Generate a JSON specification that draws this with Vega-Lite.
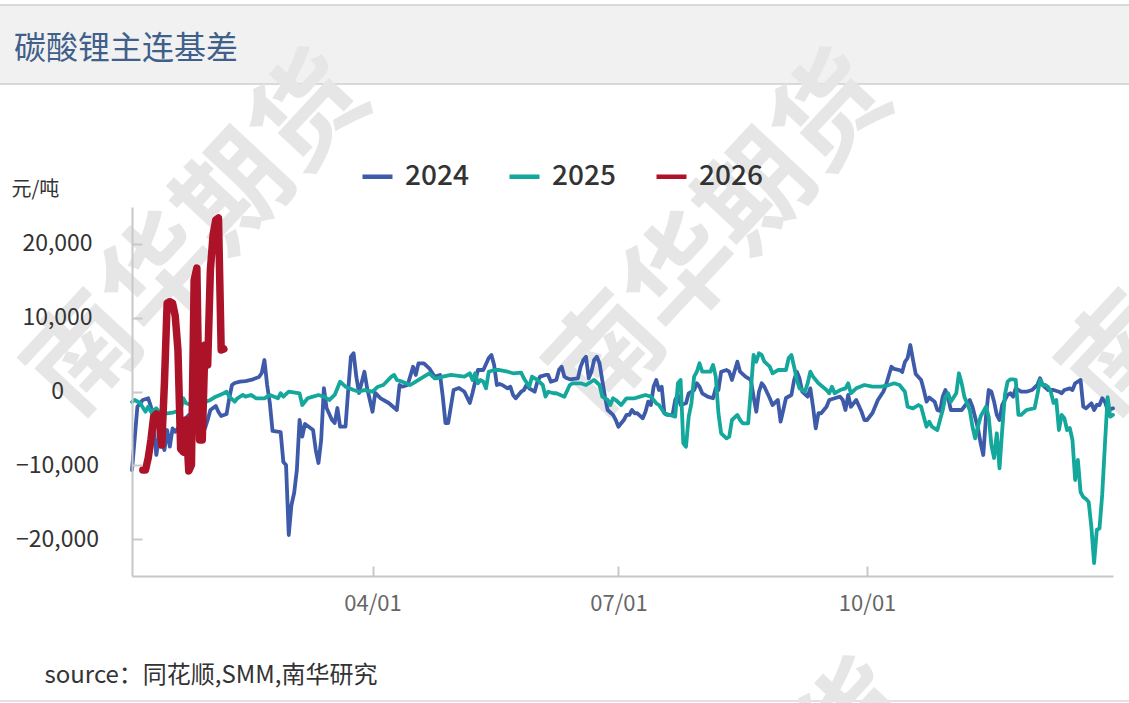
{
"$schema": "https://vega.github.io/schema/vega-lite/v6.json",
"width": 981, "height": 369,
"autosize": {"type": "none"},
"padding": {"left": 132, "top": 207, "right": 16, "bottom": 127},
"background": "white",
"config": {"view": {"stroke": null}, "font": "Noto Sans CJK SC", "axis": {"grid": false}},
"data": {"values": [
{"s":"2024","d":"2024-01-03","v":-10640},{"s":"2024","d":"2024-01-05","v":-2060},{"s":"2024","d":"2024-01-07","v":-1150},{"s":"2024","d":"2024-01-09","v":-920},{"s":"2024","d":"2024-01-10","v":-2060},{"s":"2024","d":"2024-01-11","v":-4400},{"s":"2024","d":"2024-01-12","v":-8600},{"s":"2024","d":"2024-01-13","v":-6300},{"s":"2024","d":"2024-01-14","v":-6840},{"s":"2024","d":"2024-01-15","v":-7930},{"s":"2024","d":"2024-01-16","v":-5220},{"s":"2024","d":"2024-01-17","v":-7480},{"s":"2024","d":"2024-01-18","v":-5010},{"s":"2024","d":"2024-01-19","v":-5450},{"s":"2024","d":"2024-01-20","v":-4950},{"s":"2024","d":"2024-01-21","v":-4400},{"s":"2024","d":"2024-01-23","v":-3590},{"s":"2024","d":"2024-01-24","v":-3180},{"s":"2024","d":"2024-01-26","v":-3860},{"s":"2024","d":"2024-01-27","v":-4070},{"s":"2024","d":"2024-01-29","v":-4770},{"s":"2024","d":"2024-01-30","v":-4990},{"s":"2024","d":"2024-01-31","v":-3860},
{"s":"2024","d":"2024-02-01","v":-2510},{"s":"2024","d":"2024-02-03","v":-1960},{"s":"2024","d":"2024-02-04","v":-2780},{"s":"2024","d":"2024-02-05","v":-3320},{"s":"2024","d":"2024-02-07","v":-3050},{"s":"2024","d":"2024-02-08","v":-880},{"s":"2024","d":"2024-02-09","v":880},{"s":"2024","d":"2024-02-10","v":1150},{"s":"2024","d":"2024-02-12","v":1330},{"s":"2024","d":"2024-02-14","v":1420},{"s":"2024","d":"2024-02-16","v":1560},{"s":"2024","d":"2024-02-18","v":1830},{"s":"2024","d":"2024-02-19","v":1960},{"s":"2024","d":"2024-02-20","v":2500},{"s":"2024","d":"2024-02-21","v":4270},{"s":"2024","d":"2024-02-22","v":880},{"s":"2024","d":"2024-02-23","v":-1560},{"s":"2024","d":"2024-02-24","v":-5350},{"s":"2024","d":"2024-02-27","v":-5490},{"s":"2024","d":"2024-02-28","v":-9550},{"s":"2024","d":"2024-02-29","v":-9960},
{"s":"2024","d":"2024-03-01","v":-19450},{"s":"2024","d":"2024-03-02","v":-15380},{"s":"2024","d":"2024-03-03","v":-13750},{"s":"2024","d":"2024-03-04","v":-10640},{"s":"2024","d":"2024-03-05","v":-3860},{"s":"2024","d":"2024-03-06","v":-6120},{"s":"2024","d":"2024-03-07","v":-4400},{"s":"2024","d":"2024-03-10","v":-5220},{"s":"2024","d":"2024-03-11","v":-7930},{"s":"2024","d":"2024-03-12","v":-9690},{"s":"2024","d":"2024-03-13","v":-6570},{"s":"2024","d":"2024-03-14","v":470},{"s":"2024","d":"2024-03-15","v":-2240},{"s":"2024","d":"2024-03-17","v":-3860},{"s":"2024","d":"2024-03-18","v":-4270},{"s":"2024","d":"2024-03-19","v":-2240},{"s":"2024","d":"2024-03-20","v":-4770},{"s":"2024","d":"2024-03-22","v":-4770},{"s":"2024","d":"2024-03-23","v":200},{"s":"2024","d":"2024-03-24","v":4720},{"s":"2024","d":"2024-03-25","v":5180},{"s":"2024","d":"2024-03-26","v":2010},{"s":"2024","d":"2024-03-27","v":-200},{"s":"2024","d":"2024-03-29","v":2680},{"s":"2024","d":"2024-03-30","v":470},
{"s":"2024","d":"2024-04-01","v":-2740},{"s":"2024","d":"2024-04-02","v":-200},{"s":"2024","d":"2024-04-04","v":-920},{"s":"2024","d":"2024-04-07","v":-1560},{"s":"2024","d":"2024-04-10","v":-2510},{"s":"2024","d":"2024-04-11","v":880},{"s":"2024","d":"2024-04-12","v":650},{"s":"2024","d":"2024-04-14","v":880},{"s":"2024","d":"2024-04-16","v":3360},{"s":"2024","d":"2024-04-17","v":2240},{"s":"2024","d":"2024-04-18","v":3820},{"s":"2024","d":"2024-04-20","v":3820},{"s":"2024","d":"2024-04-22","v":3140},{"s":"2024","d":"2024-04-24","v":2010},{"s":"2024","d":"2024-04-26","v":2240},{"s":"2024","d":"2024-04-27","v":-700},{"s":"2024","d":"2024-04-28","v":-4270},{"s":"2024","d":"2024-04-29","v":-4270},
{"s":"2024","d":"2024-05-01","v":200},{"s":"2024","d":"2024-05-03","v":470},{"s":"2024","d":"2024-05-05","v":-30},{"s":"2024","d":"2024-05-07","v":-1560},{"s":"2024","d":"2024-05-08","v":-200},{"s":"2024","d":"2024-05-10","v":2910},{"s":"2024","d":"2024-05-12","v":2910},{"s":"2024","d":"2024-05-14","v":4540},{"s":"2024","d":"2024-05-15","v":4950},{"s":"2024","d":"2024-05-16","v":3590},{"s":"2024","d":"2024-05-17","v":880},{"s":"2024","d":"2024-05-18","v":1020},{"s":"2024","d":"2024-05-19","v":880},{"s":"2024","d":"2024-05-21","v":430},{"s":"2024","d":"2024-05-22","v":650},{"s":"2024","d":"2024-05-23","v":-470},{"s":"2024","d":"2024-05-24","v":-920},{"s":"2024","d":"2024-05-26","v":-30},{"s":"2024","d":"2024-05-27","v":200},{"s":"2024","d":"2024-05-28","v":880},{"s":"2024","d":"2024-05-29","v":430},{"s":"2024","d":"2024-05-31","v":-30},
{"s":"2024","d":"2024-06-01","v":1330},{"s":"2024","d":"2024-06-02","v":2010},{"s":"2024","d":"2024-06-04","v":2240},{"s":"2024","d":"2024-06-05","v":2240},{"s":"2024","d":"2024-06-06","v":1330},{"s":"2024","d":"2024-06-08","v":1560},{"s":"2024","d":"2024-06-09","v":2910},{"s":"2024","d":"2024-06-10","v":3360},{"s":"2024","d":"2024-06-11","v":2010},{"s":"2024","d":"2024-06-12","v":1790},{"s":"2024","d":"2024-06-13","v":1650},{"s":"2024","d":"2024-06-16","v":1790},{"s":"2024","d":"2024-06-17","v":3360},{"s":"2024","d":"2024-06-18","v":4270},{"s":"2024","d":"2024-06-19","v":4720},{"s":"2024","d":"2024-06-20","v":1790},{"s":"2024","d":"2024-06-21","v":2680},{"s":"2024","d":"2024-06-22","v":4270},{"s":"2024","d":"2024-06-23","v":4720},{"s":"2024","d":"2024-06-24","v":3820},{"s":"2024","d":"2024-06-25","v":1560},{"s":"2024","d":"2024-06-26","v":-700},{"s":"2024","d":"2024-06-27","v":-2510},{"s":"2024","d":"2024-06-29","v":-3180},{"s":"2024","d":"2024-06-30","v":-3860},
{"s":"2024","d":"2024-07-01","v":-4770},{"s":"2024","d":"2024-07-02","v":-4310},{"s":"2024","d":"2024-07-03","v":-3860},{"s":"2024","d":"2024-07-04","v":-3180},{"s":"2024","d":"2024-07-05","v":-3180},{"s":"2024","d":"2024-07-06","v":-2510},{"s":"2024","d":"2024-07-07","v":-2950},{"s":"2024","d":"2024-07-08","v":-2950},{"s":"2024","d":"2024-07-10","v":-3630},{"s":"2024","d":"2024-07-11","v":-2740},{"s":"2024","d":"2024-07-12","v":-1380},{"s":"2024","d":"2024-07-13","v":-1830},{"s":"2024","d":"2024-07-14","v":650},{"s":"2024","d":"2024-07-15","v":1560},{"s":"2024","d":"2024-07-16","v":200},{"s":"2024","d":"2024-07-17","v":650},{"s":"2024","d":"2024-07-18","v":-2950},{"s":"2024","d":"2024-07-19","v":-3180},{"s":"2024","d":"2024-07-21","v":-3180},{"s":"2024","d":"2024-07-22","v":-1150},{"s":"2024","d":"2024-07-23","v":-470},{"s":"2024","d":"2024-07-24","v":-1830},{"s":"2024","d":"2024-07-26","v":-1600},{"s":"2024","d":"2024-07-27","v":-240},{"s":"2024","d":"2024-07-29","v":200},{"s":"2024","d":"2024-07-30","v":1110},{"s":"2024","d":"2024-07-31","v":650},
{"s":"2024","d":"2024-08-01","v":-240},{"s":"2024","d":"2024-08-03","v":-700},{"s":"2024","d":"2024-08-05","v":-920},{"s":"2024","d":"2024-08-06","v":430},{"s":"2024","d":"2024-08-07","v":200},{"s":"2024","d":"2024-08-08","v":2680},{"s":"2024","d":"2024-08-10","v":2910},{"s":"2024","d":"2024-08-11","v":2680},{"s":"2024","d":"2024-08-12","v":1560},{"s":"2024","d":"2024-08-14","v":4040},{"s":"2024","d":"2024-08-15","v":2680},{"s":"2024","d":"2024-08-17","v":2010},{"s":"2024","d":"2024-08-19","v":1560},{"s":"2024","d":"2024-08-20","v":-700},{"s":"2024","d":"2024-08-21","v":-2740},{"s":"2024","d":"2024-08-22","v":-30},{"s":"2024","d":"2024-08-23","v":1110},{"s":"2024","d":"2024-08-24","v":650},{"s":"2024","d":"2024-08-26","v":-920},{"s":"2024","d":"2024-08-27","v":-1830},{"s":"2024","d":"2024-08-29","v":-1150},{"s":"2024","d":"2024-08-30","v":-4090},{"s":"2024","d":"2024-08-31","v":-2510},
{"s":"2024","d":"2024-09-01","v":-880},{"s":"2024","d":"2024-09-03","v":-470},{"s":"2024","d":"2024-09-04","v":1560},{"s":"2024","d":"2024-09-05","v":2680},{"s":"2024","d":"2024-09-06","v":1790},{"s":"2024","d":"2024-09-07","v":-30},{"s":"2024","d":"2024-09-09","v":-700},{"s":"2024","d":"2024-09-10","v":430},{"s":"2024","d":"2024-09-11","v":-2060},{"s":"2024","d":"2024-09-12","v":-4990},{"s":"2024","d":"2024-09-13","v":-2950},{"s":"2024","d":"2024-09-14","v":-2950},{"s":"2024","d":"2024-09-16","v":-2060},{"s":"2024","d":"2024-09-17","v":-1150},{"s":"2024","d":"2024-09-19","v":-920},{"s":"2024","d":"2024-09-21","v":-700},{"s":"2024","d":"2024-09-22","v":-1150},{"s":"2024","d":"2024-09-23","v":-2510},{"s":"2024","d":"2024-09-24","v":-470},{"s":"2024","d":"2024-09-25","v":-2060},{"s":"2024","d":"2024-09-27","v":-1150},{"s":"2024","d":"2024-09-29","v":-2780},{"s":"2024","d":"2024-09-30","v":-3860},
{"s":"2024","d":"2024-10-01","v":-3860},{"s":"2024","d":"2024-10-03","v":-2910},{"s":"2024","d":"2024-10-05","v":-1150},{"s":"2024","d":"2024-10-07","v":-30},{"s":"2024","d":"2024-10-08","v":880},{"s":"2024","d":"2024-10-10","v":3360},{"s":"2024","d":"2024-10-11","v":3050},{"s":"2024","d":"2024-10-13","v":2910},{"s":"2024","d":"2024-10-14","v":2640},{"s":"2024","d":"2024-10-15","v":4000},{"s":"2024","d":"2024-10-16","v":4540},{"s":"2024","d":"2024-10-17","v":6300},{"s":"2024","d":"2024-10-18","v":4270},{"s":"2024","d":"2024-10-19","v":2370},{"s":"2024","d":"2024-10-21","v":1560},{"s":"2024","d":"2024-10-22","v":200},{"s":"2024","d":"2024-10-23","v":-1380},{"s":"2024","d":"2024-10-24","v":-810},{"s":"2024","d":"2024-10-26","v":-1380},{"s":"2024","d":"2024-10-27","v":-2510},{"s":"2024","d":"2024-10-28","v":-2640},{"s":"2024","d":"2024-10-29","v":-700},{"s":"2024","d":"2024-10-30","v":200},{"s":"2024","d":"2024-10-31","v":-880},
{"s":"2024","d":"2024-11-01","v":-2510},{"s":"2024","d":"2024-11-03","v":-2510},{"s":"2024","d":"2024-11-05","v":-2510},{"s":"2024","d":"2024-11-07","v":-1560},{"s":"2024","d":"2024-11-08","v":-1150},{"s":"2024","d":"2024-11-09","v":-2060},{"s":"2024","d":"2024-11-11","v":-4950},{"s":"2024","d":"2024-11-12","v":-6980},{"s":"2024","d":"2024-11-13","v":-8600},{"s":"2024","d":"2024-11-14","v":-3410},{"s":"2024","d":"2024-11-15","v":200},{"s":"2024","d":"2024-11-16","v":-30},{"s":"2024","d":"2024-11-17","v":-1380},{"s":"2024","d":"2024-11-18","v":-3180},{"s":"2024","d":"2024-11-19","v":-3860},{"s":"2024","d":"2024-11-20","v":-1830},{"s":"2024","d":"2024-11-22","v":-470},{"s":"2024","d":"2024-11-23","v":-240},{"s":"2024","d":"2024-11-24","v":-700},{"s":"2024","d":"2024-11-25","v":430},{"s":"2024","d":"2024-11-27","v":-30},{"s":"2024","d":"2024-11-29","v":-30},
{"s":"2024","d":"2024-12-01","v":200},{"s":"2024","d":"2024-12-03","v":880},{"s":"2024","d":"2024-12-04","v":1790},{"s":"2024","d":"2024-12-05","v":880},{"s":"2024","d":"2024-12-07","v":200},{"s":"2024","d":"2024-12-09","v":200},{"s":"2024","d":"2024-12-11","v":-30},{"s":"2024","d":"2024-12-12","v":-240},{"s":"2024","d":"2024-12-13","v":200},{"s":"2024","d":"2024-12-15","v":430},{"s":"2024","d":"2024-12-16","v":200},{"s":"2024","d":"2024-12-17","v":1110},{"s":"2024","d":"2024-12-19","v":1560},{"s":"2024","d":"2024-12-20","v":-2060},{"s":"2024","d":"2024-12-21","v":-2280},{"s":"2024","d":"2024-12-23","v":-1600},{"s":"2024","d":"2024-12-24","v":-2510},{"s":"2024","d":"2024-12-25","v":-1830},{"s":"2024","d":"2024-12-26","v":-1830},{"s":"2024","d":"2024-12-27","v":-920},{"s":"2024","d":"2024-12-28","v":-1380},{"s":"2024","d":"2024-12-29","v":-2510},{"s":"2024","d":"2024-12-31","v":-2280},
{"s":"2025","d":"2025-01-03","v":-1420},{"s":"2025","d":"2025-01-04","v":-1150},{"s":"2025","d":"2025-01-06","v":-1560},{"s":"2025","d":"2025-01-08","v":-2740},{"s":"2025","d":"2025-01-09","v":-2060},{"s":"2025","d":"2025-01-10","v":-2740},{"s":"2025","d":"2025-01-12","v":-2280},{"s":"2025","d":"2025-01-13","v":-2740},{"s":"2025","d":"2025-01-16","v":-2950},{"s":"2025","d":"2025-01-18","v":-2870},{"s":"2025","d":"2025-01-21","v":-2510},{"s":"2025","d":"2025-01-22","v":-920},{"s":"2025","d":"2025-01-23","v":-1600},{"s":"2025","d":"2025-01-25","v":-1830},{"s":"2025","d":"2025-01-27","v":-1600},{"s":"2025","d":"2025-01-29","v":-1600},
{"s":"2025","d":"2025-02-01","v":-1150},{"s":"2025","d":"2025-02-03","v":-700},{"s":"2025","d":"2025-02-06","v":-240},{"s":"2025","d":"2025-02-07","v":-30},{"s":"2025","d":"2025-02-08","v":-700},{"s":"2025","d":"2025-02-10","v":-1380},{"s":"2025","d":"2025-02-11","v":-920},{"s":"2025","d":"2025-02-13","v":-470},{"s":"2025","d":"2025-02-14","v":-700},{"s":"2025","d":"2025-02-16","v":-470},{"s":"2025","d":"2025-02-18","v":-920},{"s":"2025","d":"2025-02-21","v":-920},{"s":"2025","d":"2025-02-23","v":-470},{"s":"2025","d":"2025-02-26","v":-920},{"s":"2025","d":"2025-02-27","v":-240},{"s":"2025","d":"2025-02-28","v":-700},
{"s":"2025","d":"2025-03-01","v":-30},{"s":"2025","d":"2025-03-05","v":-240},{"s":"2025","d":"2025-03-06","v":-1830},{"s":"2025","d":"2025-03-08","v":-920},{"s":"2025","d":"2025-03-10","v":-700},{"s":"2025","d":"2025-03-12","v":-470},{"s":"2025","d":"2025-03-14","v":-700},{"s":"2025","d":"2025-03-16","v":-1150},{"s":"2025","d":"2025-03-18","v":-470},{"s":"2025","d":"2025-03-20","v":1330},{"s":"2025","d":"2025-03-22","v":650},{"s":"2025","d":"2025-03-25","v":200},{"s":"2025","d":"2025-03-27","v":-30},{"s":"2025","d":"2025-03-29","v":200},
{"s":"2025","d":"2025-04-01","v":-30},{"s":"2025","d":"2025-04-03","v":650},{"s":"2025","d":"2025-04-05","v":880},{"s":"2025","d":"2025-04-08","v":2010},{"s":"2025","d":"2025-04-09","v":2240},{"s":"2025","d":"2025-04-10","v":1560},{"s":"2025","d":"2025-04-12","v":1330},{"s":"2025","d":"2025-04-15","v":880},{"s":"2025","d":"2025-04-17","v":1330},{"s":"2025","d":"2025-04-20","v":2010},{"s":"2025","d":"2025-04-22","v":2470},{"s":"2025","d":"2025-04-24","v":1790},{"s":"2025","d":"2025-04-25","v":1790},{"s":"2025","d":"2025-04-27","v":2010},{"s":"2025","d":"2025-04-30","v":2240},
{"s":"2025","d":"2025-05-05","v":2010},{"s":"2025","d":"2025-05-07","v":2470},{"s":"2025","d":"2025-05-08","v":1560},{"s":"2025","d":"2025-05-09","v":2470},{"s":"2025","d":"2025-05-10","v":1110},{"s":"2025","d":"2025-05-11","v":1560},{"s":"2025","d":"2025-05-12","v":1330},{"s":"2025","d":"2025-05-13","v":430},{"s":"2025","d":"2025-05-14","v":2680},{"s":"2025","d":"2025-05-16","v":2910},{"s":"2025","d":"2025-05-18","v":2910},{"s":"2025","d":"2025-05-21","v":2680},{"s":"2025","d":"2025-05-23","v":2470},{"s":"2025","d":"2025-05-26","v":2550},{"s":"2025","d":"2025-05-27","v":1790},{"s":"2025","d":"2025-05-29","v":650},{"s":"2025","d":"2025-05-30","v":2010},
{"s":"2025","d":"2025-06-01","v":1560},{"s":"2025","d":"2025-06-03","v":880},{"s":"2025","d":"2025-06-04","v":-700},{"s":"2025","d":"2025-06-05","v":-30},{"s":"2025","d":"2025-06-07","v":-240},{"s":"2025","d":"2025-06-08","v":-240},{"s":"2025","d":"2025-06-11","v":-700},{"s":"2025","d":"2025-06-13","v":880},{"s":"2025","d":"2025-06-14","v":1110},{"s":"2025","d":"2025-06-17","v":1110},{"s":"2025","d":"2025-06-19","v":880},{"s":"2025","d":"2025-06-22","v":1560},{"s":"2025","d":"2025-06-24","v":880},{"s":"2025","d":"2025-06-25","v":-700},{"s":"2025","d":"2025-06-27","v":-1150},{"s":"2025","d":"2025-06-28","v":-1830},{"s":"2025","d":"2025-06-29","v":-920},{"s":"2025","d":"2025-06-30","v":-1150},
{"s":"2025","d":"2025-07-02","v":-1830},{"s":"2025","d":"2025-07-04","v":-920},{"s":"2025","d":"2025-07-07","v":-920},{"s":"2025","d":"2025-07-09","v":-700},{"s":"2025","d":"2025-07-11","v":-470},{"s":"2025","d":"2025-07-13","v":-700},{"s":"2025","d":"2025-07-15","v":-1600},{"s":"2025","d":"2025-07-16","v":-1830},{"s":"2025","d":"2025-07-18","v":-2950},{"s":"2025","d":"2025-07-20","v":-3180},{"s":"2025","d":"2025-07-22","v":-3410},{"s":"2025","d":"2025-07-23","v":1110},{"s":"2025","d":"2025-07-24","v":1560},{"s":"2025","d":"2025-07-25","v":-7020},{"s":"2025","d":"2025-07-26","v":-7480},{"s":"2025","d":"2025-07-27","v":-3410},{"s":"2025","d":"2025-07-28","v":-1600},{"s":"2025","d":"2025-07-29","v":2010},{"s":"2025","d":"2025-07-30","v":2680},{"s":"2025","d":"2025-07-31","v":3820},
{"s":"2025","d":"2025-08-01","v":2680},{"s":"2025","d":"2025-08-04","v":2680},{"s":"2025","d":"2025-08-05","v":3590},{"s":"2025","d":"2025-08-06","v":2010},{"s":"2025","d":"2025-08-07","v":-2950},{"s":"2025","d":"2025-08-08","v":-5660},{"s":"2025","d":"2025-08-10","v":-6340},{"s":"2025","d":"2025-08-11","v":-6120},{"s":"2025","d":"2025-08-12","v":-3860},{"s":"2025","d":"2025-08-14","v":-3180},{"s":"2025","d":"2025-08-15","v":-3860},{"s":"2025","d":"2025-08-16","v":-4310},{"s":"2025","d":"2025-08-18","v":-4310},{"s":"2025","d":"2025-08-19","v":200},{"s":"2025","d":"2025-08-20","v":4950},{"s":"2025","d":"2025-08-21","v":4040},{"s":"2025","d":"2025-08-22","v":5180},{"s":"2025","d":"2025-08-23","v":4950},{"s":"2025","d":"2025-08-24","v":4040},{"s":"2025","d":"2025-08-26","v":3360},{"s":"2025","d":"2025-08-27","v":2470},{"s":"2025","d":"2025-08-29","v":2910},
{"s":"2025","d":"2025-09-01","v":2910},{"s":"2025","d":"2025-09-02","v":4540},{"s":"2025","d":"2025-09-03","v":4950},{"s":"2025","d":"2025-09-04","v":3360},{"s":"2025","d":"2025-09-05","v":1560},{"s":"2025","d":"2025-09-06","v":430},{"s":"2025","d":"2025-09-08","v":-30},{"s":"2025","d":"2025-09-09","v":1110},{"s":"2025","d":"2025-09-10","v":2680},{"s":"2025","d":"2025-09-11","v":2010},{"s":"2025","d":"2025-09-13","v":1110},{"s":"2025","d":"2025-09-16","v":200},{"s":"2025","d":"2025-09-17","v":-240},{"s":"2025","d":"2025-09-18","v":650},{"s":"2025","d":"2025-09-19","v":-240},{"s":"2025","d":"2025-09-21","v":200},{"s":"2025","d":"2025-09-23","v":430},{"s":"2025","d":"2025-09-24","v":1110},{"s":"2025","d":"2025-09-25","v":-240},{"s":"2025","d":"2025-09-27","v":430},{"s":"2025","d":"2025-09-30","v":880},
{"s":"2025","d":"2025-10-03","v":650},{"s":"2025","d":"2025-10-06","v":650},{"s":"2025","d":"2025-10-08","v":750},{"s":"2025","d":"2025-10-11","v":1110},{"s":"2025","d":"2025-10-13","v":880},{"s":"2025","d":"2025-10-15","v":-30},{"s":"2025","d":"2025-10-16","v":-2060},{"s":"2025","d":"2025-10-18","v":-2280},{"s":"2025","d":"2025-10-20","v":-1830},{"s":"2025","d":"2025-10-21","v":-2060},{"s":"2025","d":"2025-10-23","v":-4770},{"s":"2025","d":"2025-10-24","v":-4090},{"s":"2025","d":"2025-10-25","v":-4770},{"s":"2025","d":"2025-10-27","v":-5220},{"s":"2025","d":"2025-10-28","v":-3860},{"s":"2025","d":"2025-10-29","v":-2510},{"s":"2025","d":"2025-10-30","v":-700},{"s":"2025","d":"2025-10-31","v":-240},
{"s":"2025","d":"2025-11-01","v":-1380},{"s":"2025","d":"2025-11-03","v":-240},{"s":"2025","d":"2025-11-04","v":2470},{"s":"2025","d":"2025-11-05","v":1110},{"s":"2025","d":"2025-11-06","v":-700},{"s":"2025","d":"2025-11-08","v":-2510},{"s":"2025","d":"2025-11-09","v":-4770},{"s":"2025","d":"2025-11-10","v":-6340},{"s":"2025","d":"2025-11-11","v":-4770},{"s":"2025","d":"2025-11-12","v":-3410},{"s":"2025","d":"2025-11-14","v":-2060},{"s":"2025","d":"2025-11-15","v":-3410},{"s":"2025","d":"2025-11-16","v":-7250},{"s":"2025","d":"2025-11-17","v":-9010},{"s":"2025","d":"2025-11-18","v":-5660},{"s":"2025","d":"2025-11-19","v":-10410},{"s":"2025","d":"2025-11-20","v":-5220},{"s":"2025","d":"2025-11-21","v":-470},{"s":"2025","d":"2025-11-22","v":1330},{"s":"2025","d":"2025-11-23","v":1650},{"s":"2025","d":"2025-11-24","v":1630},{"s":"2025","d":"2025-11-25","v":1560},{"s":"2025","d":"2025-11-26","v":-3180},{"s":"2025","d":"2025-11-27","v":-3180},{"s":"2025","d":"2025-11-29","v":-2510},
{"s":"2025","d":"2025-12-02","v":-2240},{"s":"2025","d":"2025-12-03","v":-470},{"s":"2025","d":"2025-12-04","v":1560},{"s":"2025","d":"2025-12-05","v":880},{"s":"2025","d":"2025-12-06","v":880},{"s":"2025","d":"2025-12-07","v":610},{"s":"2025","d":"2025-12-08","v":-70},{"s":"2025","d":"2025-12-09","v":-1560},{"s":"2025","d":"2025-12-10","v":-1150},{"s":"2025","d":"2025-12-11","v":-5220},{"s":"2025","d":"2025-12-12","v":-3180},{"s":"2025","d":"2025-12-13","v":-3630},{"s":"2025","d":"2025-12-14","v":-5220},{"s":"2025","d":"2025-12-15","v":-4950},{"s":"2025","d":"2025-12-16","v":-6570},{"s":"2025","d":"2025-12-17","v":-11990},{"s":"2025","d":"2025-12-18","v":-9280},{"s":"2025","d":"2025-12-19","v":-13620},{"s":"2025","d":"2025-12-20","v":-14300},{"s":"2025","d":"2025-12-21","v":-14570},{"s":"2025","d":"2025-12-22","v":-14970},{"s":"2025","d":"2025-12-23","v":-18360},{"s":"2025","d":"2025-12-24","v":-23240},{"s":"2025","d":"2025-12-25","v":-18770},{"s":"2025","d":"2025-12-26","v":-18560},{"s":"2025","d":"2025-12-27","v":-14020},{"s":"2025","d":"2025-12-28","v":-7250},{"s":"2025","d":"2025-12-29","v":-750},{"s":"2025","d":"2025-12-30","v":-3410},{"s":"2025","d":"2025-12-31","v":-3180},
{"s":"2026","d":"2026-01-07","v":-10640},{"s":"2026","d":"2026-01-08","v":-10640},{"s":"2026","d":"2026-01-09","v":-9010},{"s":"2026","d":"2026-01-10","v":-6570},{"s":"2026","d":"2026-01-11","v":-3460},{"s":"2026","d":"2026-01-12","v":-3050},{"s":"2026","d":"2026-01-13","v":-3860},{"s":"2026","d":"2026-01-14","v":-7250},{"s":"2026","d":"2026-01-15","v":1150},{"s":"2026","d":"2026-01-16","v":11990},{"s":"2026","d":"2026-01-17","v":12170},{"s":"2026","d":"2026-01-18","v":11990},{"s":"2026","d":"2026-01-19","v":10230},{"s":"2026","d":"2026-01-20","v":5620},{"s":"2026","d":"2026-01-21","v":-7790},{"s":"2026","d":"2026-01-22","v":-8200},{"s":"2026","d":"2026-01-23","v":-3860},{"s":"2026","d":"2026-01-24","v":-10770},{"s":"2026","d":"2026-01-25","v":-9960},{"s":"2026","d":"2026-01-26","v":15110},{"s":"2026","d":"2026-01-27","v":16730},{"s":"2026","d":"2026-01-28","v":-6570},{"s":"2026","d":"2026-01-29","v":-6570},{"s":"2026","d":"2026-01-30","v":6300},{"s":"2026","d":"2026-01-31","v":3590},{"s":"2026","d":"2026-02-01","v":16460},{"s":"2026","d":"2026-02-02","v":21210},{"s":"2026","d":"2026-02-03","v":23240},{"s":"2026","d":"2026-02-04","v":23510},{"s":"2026","d":"2026-02-05","v":5620},{"s":"2026","d":"2026-02-06","v":5760}
]},
"layer": [
{
 "data": {"values": [{}]},
 "mark": {"type": "rect", "fill": "#f1f1f1", "stroke": "#d9d9d9", "strokeWidth": 2},
 "encoding": {
  "x": {"datum": {"year": 2011, "month": 10, "date": 1, "utc": true}, "type": "temporal", "axis": {"labelExpr": "utcFormat(datum.value, '%m/%d')", "zindex": 1}},
  "x2": {"datum": {"year": 2013, "month": 3, "date": 1, "utc": true}},
  "y": {"datum": 52370, "type": "quantitative", "axis": {"labelExpr": "format(datum.value, ',')", "zindex": 1}},
  "y2": {"datum": 41670}
 }
},
{
 "data": {"values": [{}]},
 "mark": {"type": "rule", "stroke": "#e2e2e2", "strokeWidth": 2},
 "encoding": {
  "x": {"datum": {"year": 2011, "month": 10, "date": 1, "utc": true}, "type": "temporal", "axis": {"labelExpr": "utcFormat(datum.value, '%m/%d')", "zindex": 1}},
  "x2": {"datum": {"year": 2013, "month": 3, "date": 1, "utc": true}},
  "y": {"datum": -41940, "type": "quantitative", "axis": {"labelExpr": "format(datum.value, ',')", "zindex": 1}}
 }
},
{
 "data": {"values": [{}]},
 "mark": {"type": "text", "align": "left", "baseline": "middle", "fontSize": 32, "color": "#405f8a", "font": "Noto Sans CJK SC", "text": "碳酸锂主连基差"},
 "encoding": {
  "x": {"datum": {"year": 2011, "month": 11, "date": 20, "hours": 8, "utc": true}, "type": "temporal", "axis": {"labelExpr": "utcFormat(datum.value, '%m/%d')", "zindex": 1}},
  "y": {"datum": 46400, "type": "quantitative", "axis": {"labelExpr": "format(datum.value, ',')", "zindex": 1}}
 }
},
{
 "data": {"values": [{}]},
 "mark": {"type": "text", "align": "center", "baseline": "middle", "fontSize": 110, "fontWeight": "bold", "angle": -47, "color": "#e6e6e6", "font": "Noto Sans CJK SC", "text": "南华期货"},
 "encoding": {
  "x": {"datum": {"year": 2012, "month": 1, "date": 28, "hours": 4, "utc": true}, "type": "temporal", "axis": {"labelExpr": "utcFormat(datum.value, '%m/%d')", "zindex": 1}},
  "y": {"datum": 21070, "type": "quantitative", "axis": {"labelExpr": "format(datum.value, ',')", "zindex": 1}}
 }
},
{
 "data": {"values": [{}]},
 "mark": {"type": "text", "align": "center", "baseline": "middle", "fontSize": 110, "fontWeight": "bold", "angle": -47, "color": "#e6e6e6", "font": "Noto Sans CJK SC", "text": "南华期货"},
 "encoding": {
  "x": {"datum": {"year": 2012, "month": 8, "date": 8, "hours": 9, "utc": true}, "type": "temporal", "axis": {"labelExpr": "utcFormat(datum.value, '%m/%d')", "zindex": 1}},
  "y": {"datum": 21070, "type": "quantitative", "axis": {"labelExpr": "format(datum.value, ',')", "zindex": 1}}
 }
},
{
 "data": {"values": [{}]},
 "mark": {"type": "text", "align": "center", "baseline": "middle", "fontSize": 110, "fontWeight": "bold", "angle": -47, "color": "#e6e6e6", "font": "Noto Sans CJK SC", "text": "南华期货"},
 "encoding": {
  "x": {"datum": {"year": 2013, "month": 2, "date": 14, "hours": 5, "utc": true}, "type": "temporal", "axis": {"labelExpr": "utcFormat(datum.value, '%m/%d')", "zindex": 1}},
  "y": {"datum": 21070, "type": "quantitative", "axis": {"labelExpr": "format(datum.value, ',')", "zindex": 1}}
 }
},
{
 "data": {"values": [{}]},
 "mark": {"type": "text", "align": "center", "baseline": "middle", "fontSize": 110, "fontWeight": "bold", "angle": -47, "color": "#e6e6e6", "font": "Noto Sans CJK SC", "text": "南华期货"},
 "encoding": {
  "x": {"datum": {"year": 2012, "month": 8, "date": 17, "hours": 0, "utc": true}, "type": "temporal", "axis": {"labelExpr": "utcFormat(datum.value, '%m/%d')", "zindex": 1}},
  "y": {"datum": -61450, "type": "quantitative", "axis": {"labelExpr": "format(datum.value, ',')", "zindex": 1}}
 }
},
{
 "encoding": {
  "x": {"field": "d", "timeUnit": "utcmonthdate", "type": "temporal",
   "scale": {"type": "utc", "domain": [{"year": 2012, "month": 1, "date": 3, "utc": true}, {"year": 2012, "month": 12, "date": 31, "utc": true}]},
   "title": "source：同花顺,SMM,南华研究",
   "axis": {"values": [{"year": 2012, "month": 4, "date": 1, "utc": true}, {"year": 2012, "month": 7, "date": 1, "utc": true}, {"year": 2012, "month": 10, "date": 1, "utc": true}],
    "labelExpr": "utcFormat(datum.value, '%m/%d')", "zindex": 1,
    "domainColor": "#c8c8c8", "domainWidth": 2, "tickColor": "#c8c8c8", "tickWidth": 2, "tickSize": -10,
    "labelFontSize": 22, "labelColor": "#666666", "labelPadding": 37, "labelBaseline": "middle", "labelFont": "Noto Sans CJK SC",
    "titleX": -88, "titleY": 99, "titleAlign": "left", "titleBaseline": "middle", "titleFontSize": 24, "titleFontWeight": "normal", "titleColor": "#333333", "titleFont": "Noto Sans CJK SC"}},
  "y": {"field": "v", "type": "quantitative",
   "scale": {"domain": [-25000, 25000], "nice": false},
   "title": "元/吨",
   "axis": {"values": [-20000, -10000, 0, 10000, 20000], "labelExpr": "format(datum.value, ',')", "zindex": 1,
    "domainColor": "#c8c8c8", "domainWidth": 2, "tickColor": "#c8c8c8", "tickWidth": 2, "tickSize": -10,
    "labelFontSize": 23, "labelColor": "#333333", "labelAlign": "center", "labelPadding": 85, "labelFont": "Noto Sans CJK SC",
    "titleAngle": 0, "titleX": -121, "titleY": -18, "titleAlign": "left", "titleBaseline": "middle", "titleFontSize": 20, "titleFontWeight": "normal", "titleColor": "#333333", "titleFont": "Noto Sans CJK SC"}},
  "color": {"field": "s", "type": "nominal",
   "scale": {"domain": ["2024", "2025", "2026"], "range": ["#3e5ba9", "#14a79b", "#ad1328"]},
   "legend": {"orient": "none", "legendX": 228, "legendY": -48, "direction": "horizontal", "title": null, "padding": 0,
    "symbolType": "stroke", "symbolSize": 900, "symbolStrokeWidth": 4.5,
    "labelFontSize": 28, "labelFontWeight": 500, "labelColor": "#333333", "labelOffset": 10, "columnPadding": 31, "labelFont": "Noto Sans CJK SC"}}
 },
 "layer": [
  {"transform": [{"filter": "datum.s !== '2026'"}], "mark": {"type": "line", "strokeWidth": 3.8, "strokeCap": "round", "strokeJoin": "round"}},
  {"transform": [{"filter": "datum.s === '2026'"}], "mark": {"type": "line", "strokeWidth": 7.5, "strokeCap": "round", "strokeJoin": "round"}}
 ]
}
]
}
